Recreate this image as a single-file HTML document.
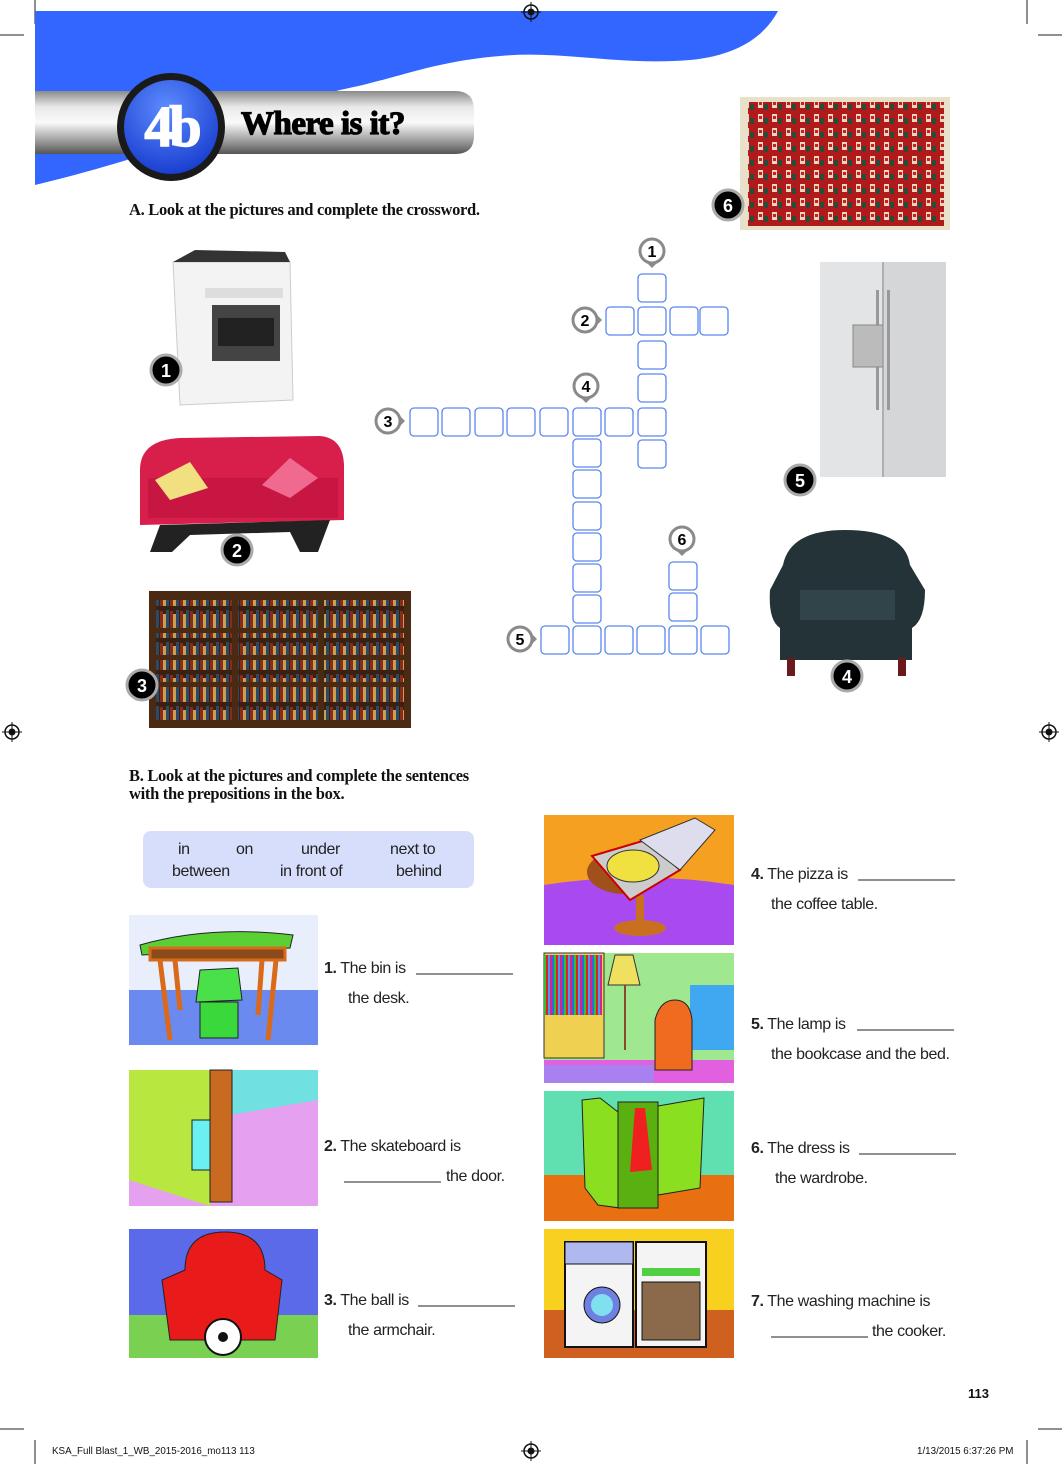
<!DOCTYPE html>
<html><head><meta charset="utf-8"><style>
html,body{margin:0;padding:0;background:#fff}
svg{display:block}
.s{font-family:"Liberation Sans",sans-serif;font-size:16px;fill:#222;letter-spacing:-0.4px}
.h{font-family:"Liberation Serif",serif;font-weight:bold;font-size:16.5px;fill:#111;letter-spacing:-0.3px}
.n{font-family:"Liberation Sans",sans-serif;font-weight:bold;font-size:16px;fill:#000;text-anchor:middle}
.w{font-family:"Liberation Sans",sans-serif;font-weight:bold;font-size:18px;fill:#fff;text-anchor:middle}
.f{font-family:"Liberation Sans",sans-serif;font-size:9.8px;fill:#111}
</style></head><body>
<svg width="1062" height="1464" viewBox="0 0 1062 1464" xmlns="http://www.w3.org/2000/svg">
<defs>
<linearGradient id="bar" x1="0" y1="0" x2="0" y2="1"><stop offset="0" stop-color="#8a8a8a"/><stop offset="0.25" stop-color="#e8e8e8"/><stop offset="0.5" stop-color="#fafafa"/><stop offset="0.8" stop-color="#9a9a9a"/><stop offset="1" stop-color="#555"/></linearGradient>
<radialGradient id="bl" cx="0.45" cy="0.3" r="0.7"><stop offset="0" stop-color="#5d8cff"/><stop offset="1" stop-color="#1a3fd0"/></radialGradient>
<pattern id="rug" width="14" height="14" patternUnits="userSpaceOnUse"><rect width="14" height="14" fill="#b01a1a"/><rect x="2" y="2" width="5" height="8" fill="#e8d8c0"/><rect x="8" y="6" width="4" height="6" fill="#2a4a3a"/><rect x="3" y="4" width="3" height="3" fill="#c82020"/></pattern>
<pattern id="books" width="10" height="32" patternUnits="userSpaceOnUse"><rect width="10" height="32" fill="#3a2010"/><rect x="0" y="3" width="3" height="27" fill="#8a2a1a"/><rect x="3" y="6" width="3" height="24" fill="#c8a050"/><rect x="6" y="2" width="3" height="28" fill="#2a4a6a"/></pattern>
<pattern id="cbooks" width="10" height="20" patternUnits="userSpaceOnUse"><rect width="10" height="20" fill="#555"/><rect x="0" y="0" width="2" height="20" fill="#e0208a"/><rect x="2" y="0" width="2" height="20" fill="#2a6ae0"/><rect x="4" y="0" width="2" height="20" fill="#30c030"/><rect x="6" y="0" width="2" height="20" fill="#e02020"/><rect x="8" y="0" width="2" height="20" fill="#40a0f0"/></pattern>
</defs>

<g stroke="#222" stroke-width="1">
<line x1="35" y1="0" x2="35" y2="24"/><line x1="0" y1="35" x2="24" y2="35"/>
<line x1="1027" y1="0" x2="1027" y2="24"/><line x1="1038" y1="35" x2="1062" y2="35"/>
<line x1="35" y1="1440" x2="35" y2="1464"/><line x1="0" y1="1429" x2="24" y2="1429"/>
<line x1="1027" y1="1440" x2="1027" y2="1464"/><line x1="1038" y1="1429" x2="1062" y2="1429"/>
</g>

<path d="M35,11 L778,11 C765,35 740,55 690,60 C620,66 560,50 500,56 C430,62 400,78 340,90 C260,110 180,150 35,185 Z" fill="#3366ff"/>

<g fill="none" stroke="#111" stroke-width="1.5">
<circle cx="531" cy="12" r="7"/><circle cx="12" cy="732" r="7"/><circle cx="1049" cy="732" r="7"/><circle cx="531" cy="1451" r="7"/>
</g>
<g fill="#111"><circle cx="531" cy="12" r="3.5"/><circle cx="12" cy="732" r="3.5"/><circle cx="1049" cy="732" r="3.5"/><circle cx="531" cy="1451" r="3.5"/></g>
<g stroke="#111" stroke-width="1"><line x1="521" y1="12" x2="541" y2="12"/><line x1="531" y1="2" x2="531" y2="22"/><line x1="2" y1="732" x2="22" y2="732"/><line x1="12" y1="722" x2="12" y2="742"/><line x1="1039" y1="732" x2="1059" y2="732"/><line x1="1049" y1="722" x2="1049" y2="742"/><line x1="521" y1="1451" x2="541" y2="1451"/><line x1="531" y1="1441" x2="531" y2="1461"/></g>

<path d="M35,91 L455,91 Q474,91 474,110 L474,136 Q474,154 455,154 L35,154 Z" fill="url(#bar)"/>
<circle cx="171" cy="127" r="54" fill="#1a1a1a"/>
<circle cx="171" cy="127" r="47" fill="url(#bl)"/>
<text x="171" y="146" font-family="Liberation Serif,serif" font-weight="bold" font-size="58" fill="#fff" stroke="#fff" stroke-width="1.5" text-anchor="middle" letter-spacing="-4">4b</text>
<text x="241" y="134" font-family="Liberation Serif,serif" font-weight="bold" font-size="33" fill="#000" stroke="#000" stroke-width="1.2" letter-spacing="-0.5">Where is it?</text>

<text x="129" y="215" class="h">A. Look at the pictures and complete the crossword.</text>

<rect x="740" y="97" width="210" height="133" fill="#e8e0c8"/>
<rect x="748" y="102" width="196" height="124" fill="url(#rug)"/>
<circle cx="728" cy="205" r="15" fill="#000" stroke="#aaa" stroke-width="3"/><text x="728" y="212" class="w">6</text>

<path d="M173,262 L290,262 L293,400 L180,405 Z" fill="#f3f3f3" stroke="#ccc"/>
<path d="M173,262 L195,250 L285,252 L290,262 Z" fill="#333"/>
<rect x="205" y="288" width="78" height="10" fill="#ddd"/>
<rect x="212" y="305" width="68" height="56" fill="#444"/><rect x="218" y="318" width="56" height="28" fill="#222"/>
<circle cx="166" cy="370" r="15" fill="#000" stroke="#aaa" stroke-width="3"/><text x="166" y="377" class="w">1</text>

<path d="M140,470 Q140,440 180,438 L320,436 Q345,438 344,470 L344,520 L140,525 Z" fill="#d81e4a"/>
<rect x="148" y="478" width="190" height="40" fill="#c81642"/>
<polygon points="160,525 330,520 318,552 300,552 290,532 190,535 172,552 150,552" fill="#222"/>
<polygon points="155,480 190,462 208,488 170,500" fill="#f0e080"/>
<polygon points="262,485 290,458 318,478 290,498" fill="#f06a90"/>
<circle cx="237" cy="550" r="15" fill="#000" stroke="#aaa" stroke-width="3"/><text x="237" y="557" class="w">2</text>

<rect x="149" y="591" width="262" height="137" fill="#4a2a12"/>
<rect x="156" y="600" width="248" height="120" fill="url(#books)"/>
<g fill="#4a2a12"><rect x="156" y="628" width="248" height="5"/><rect x="156" y="655" width="248" height="5"/><rect x="156" y="682" width="248" height="5"/><rect x="232" y="595" width="6" height="128"/><rect x="318" y="595" width="6" height="128"/></g>
<circle cx="142" cy="685" r="15" fill="#000" stroke="#aaa" stroke-width="3"/><text x="142" y="692" class="w">3</text>

<rect x="820" y="262" width="126" height="215" fill="#d4d6d8"/>
<rect x="820" y="262" width="62" height="215" fill="#e2e4e6"/>
<line x1="883" y1="262" x2="883" y2="477" stroke="#888"/>
<rect x="876" y="290" width="3" height="120" fill="#999"/><rect x="887" y="290" width="3" height="120" fill="#999"/>
<rect x="853" y="325" width="30" height="42" fill="#bbb" stroke="#888"/>
<circle cx="800" cy="480" r="15" fill="#000" stroke="#aaa" stroke-width="3"/><text x="800" y="487" class="w">5</text>

<path d="M783,565 Q790,530 845,530 Q905,530 910,565 L925,590 Q925,620 912,628 L912,660 L780,660 L780,628 Q768,620 770,590 Z" fill="#233338"/>
<rect x="800" y="590" width="95" height="30" fill="#30444a"/>
<rect x="787" y="658" width="8" height="18" fill="#6a1a1a"/><rect x="898" y="658" width="8" height="18" fill="#6a1a1a"/>
<circle cx="847" cy="676" r="15" fill="#000" stroke="#aaa" stroke-width="3"/><text x="847" y="683" class="w">4</text>

<g fill="#fff" stroke="#5b86f0" stroke-width="1.3">
<rect x="638" y="274" width="28" height="28" rx="4"/>
<rect x="606" y="307" width="28" height="28" rx="4"/><rect x="638" y="307" width="28" height="28" rx="4"/><rect x="670" y="307" width="28" height="28" rx="4"/><rect x="700" y="307" width="28" height="28" rx="4"/>
<rect x="638" y="341" width="28" height="28" rx="4"/><rect x="638" y="374" width="28" height="28" rx="4"/>
<rect x="410" y="408" width="28" height="28" rx="4"/><rect x="442" y="408" width="28" height="28" rx="4"/><rect x="475" y="408" width="28" height="28" rx="4"/><rect x="507" y="408" width="28" height="28" rx="4"/><rect x="540" y="408" width="28" height="28" rx="4"/><rect x="573" y="408" width="28" height="28" rx="4"/><rect x="605" y="408" width="28" height="28" rx="4"/><rect x="638" y="408" width="28" height="28" rx="4"/>
<rect x="638" y="440" width="28" height="28" rx="4"/>
<rect x="573" y="439" width="28" height="28" rx="4"/><rect x="573" y="470" width="28" height="28" rx="4"/><rect x="573" y="502" width="28" height="28" rx="4"/><rect x="573" y="533" width="28" height="28" rx="4"/><rect x="573" y="564" width="28" height="28" rx="4"/><rect x="573" y="595" width="28" height="28" rx="4"/>
<rect x="669" y="562" width="28" height="28" rx="4"/><rect x="669" y="593" width="28" height="28" rx="4"/>
<rect x="541" y="626" width="28" height="28" rx="4"/><rect x="573" y="626" width="28" height="28" rx="4"/><rect x="605" y="626" width="28" height="28" rx="4"/><rect x="637" y="626" width="28" height="28" rx="4"/><rect x="669" y="626" width="28" height="28" rx="4"/><rect x="701" y="626" width="28" height="28" rx="4"/>
</g>
<g fill="#fff" stroke="#8a8a8a" stroke-width="3">
<circle cx="652" cy="251" r="12"/><circle cx="585" cy="320" r="12"/><circle cx="388" cy="421" r="12"/><circle cx="586" cy="386" r="12"/><circle cx="520" cy="639" r="12"/><circle cx="682" cy="539" r="12"/>
</g>
<g fill="#8a8a8a">
<polygon points="647,263 657,263 652,268"/><polygon points="677,551 687,551 682,556"/><polygon points="581,398 591,398 586,403"/>
<polygon points="597,315 597,325 602,320"/><polygon points="400,416 400,426 405,421"/><polygon points="532,634 532,644 537,639"/>
</g>
<text x="652" y="257" class="n">1</text><text x="585" y="326" class="n">2</text><text x="388" y="427" class="n">3</text><text x="586" y="392" class="n">4</text><text x="520" y="645" class="n">5</text><text x="682" y="545" class="n">6</text>

<text x="129" y="781" class="h">B.  Look at the pictures and complete the sentences</text>
<text x="129" y="799" class="h">with the prepositions in the box.</text>
<rect x="143" y="831" width="331" height="57" rx="8" fill="#d6defb"/>
<g class="s"><text x="178" y="854">in</text><text x="236" y="854">on</text><text x="301" y="854">under</text><text x="390" y="854">next to</text>
<text x="172" y="876">between</text><text x="280" y="876">in front of</text><text x="396" y="876">behind</text></g>

<rect x="129" y="915" width="189" height="130" fill="#e8eefc"/>
<rect x="129" y="990" width="189" height="55" fill="#6a8af0"/>
<path d="M140,945 Q210,925 293,935 L290,948 L142,955 Z" fill="#5ad035" stroke="#222"/>
<rect x="150" y="948" width="135" height="12" fill="#8a4a1a" stroke="#d86a1a" stroke-width="3"/>
<g stroke="#d86a1a" stroke-width="5"><line x1="160" y1="960" x2="170" y2="1040"/><line x1="175" y1="960" x2="180" y2="1010"/><line x1="276" y1="960" x2="268" y2="1040"/><line x1="262" y1="960" x2="258" y2="1015"/></g>
<polygon points="200,970 238,968 242,1000 196,1002" fill="#4ae04a" stroke="#222"/>
<rect x="200" y="1002" width="38" height="36" fill="#3ad83a" stroke="#222"/>

<rect x="129" y="1070" width="189" height="136" fill="#e6a0f0"/>
<polygon points="129,1070 210,1070 210,1206 129,1180" fill="#b8e840"/>
<polygon points="230,1070 318,1070 318,1100 230,1115" fill="#70e0e0"/>
<rect x="210" y="1070" width="22" height="132" fill="#c86a20" stroke="#222"/>
<rect x="192" y="1120" width="18" height="50" fill="#6af0f0" stroke="#222"/>

<rect x="129" y="1229" width="189" height="129" fill="#5a6ae8"/>
<rect x="129" y="1315" width="189" height="43" fill="#7ad050"/>
<path d="M185,1270 Q185,1232 225,1232 Q265,1232 265,1270 L282,1280 L275,1340 L170,1340 L162,1280 Z" fill="#e81a1a" stroke="#222"/>
<circle cx="223" cy="1337" r="18" fill="#fff" stroke="#111" stroke-width="2"/>
<circle cx="223" cy="1337" r="5" fill="#111"/>

<rect x="544" y="815" width="190" height="130" fill="#f5a020"/>
<path d="M544,885 Q640,870 734,885 L734,945 L544,945 Z" fill="#a84af0"/>
<ellipse cx="640" cy="928" rx="26" ry="8" fill="#c87020"/>
<rect x="636" y="895" width="8" height="30" fill="#c87020"/>
<ellipse cx="625" cy="872" rx="38" ry="22" fill="#a0501a"/>
<polygon points="592,856 646,840 680,870 630,900" fill="#ccc" stroke="#c00" stroke-width="2"/>
<polygon points="640,840 695,818 715,830 680,870" fill="#dde" stroke="#333"/>
<ellipse cx="633" cy="866" rx="26" ry="16" fill="#f0e040" stroke="#333"/>

<rect x="544" y="953" width="190" height="130" fill="#a0e890"/>
<rect x="544" y="1060" width="190" height="23" fill="#e060e0"/>
<rect x="544" y="953" width="60" height="105" fill="#f0d050" stroke="#333"/>
<rect x="544" y="955" width="58" height="60" fill="url(#cbooks)"/>
<polygon points="615,955 633,955 640,985 608,985" fill="#f0e060" stroke="#333"/>
<line x1="625" y1="985" x2="625" y2="1050" stroke="#8a4a2a" stroke-width="2"/>
<rect x="690" y="985" width="44" height="65" fill="#40a8f0"/>
<path d="M655,1070 L655,1020 Q660,1000 675,1000 Q690,1000 692,1020 L692,1070 Z" fill="#f06a20" stroke="#222"/>
<rect x="544" y="1065" width="110" height="18" fill="#a880f0"/>

<rect x="544" y="1091" width="190" height="130" fill="#60e0b0"/>
<rect x="544" y="1175" width="190" height="46" fill="#e87010"/>
<polygon points="582,1100 600,1098 618,1112 620,1208 598,1205 585,1188" fill="#8ae020" stroke="#222"/>
<rect x="618" y="1102" width="40" height="106" fill="#5ab010" stroke="#222"/>
<polygon points="658,1106 704,1098 700,1188 658,1195" fill="#8ae020" stroke="#222"/>
<polygon points="635,1108 645,1108 652,1170 630,1172" fill="#f02020"/>

<rect x="544" y="1229" width="190" height="129" fill="#f8d020"/>
<rect x="544" y="1310" width="190" height="48" fill="#d06020"/>
<rect x="565" y="1242" width="68" height="105" fill="#f4f4f4" stroke="#111" stroke-width="2"/>
<rect x="565" y="1242" width="68" height="22" fill="#b0b8f0" stroke="#111"/>
<circle cx="602" cy="1305" r="18" fill="#7080e0" stroke="#111"/><circle cx="602" cy="1305" r="11" fill="#80e0f0"/>
<rect x="636" y="1242" width="70" height="105" fill="#f4f4f4" stroke="#111" stroke-width="2"/>
<rect x="642" y="1268" width="58" height="8" fill="#50d040"/>
<rect x="642" y="1282" width="58" height="58" fill="#8a6a4a" stroke="#111"/>

<g class="s">
<text x="324" y="973"><tspan font-weight="bold">1.</tspan>  The bin is</text>
<text x="348" y="1003">the desk.</text>
<text x="324" y="1151"><tspan font-weight="bold">2.</tspan> The skateboard is</text>
<text x="446" y="1181">the door.</text>
<text x="324" y="1305"><tspan font-weight="bold">3.</tspan>  The ball is</text>
<text x="348" y="1335">the armchair.</text>
<text x="751" y="879"><tspan font-weight="bold">4.</tspan>  The pizza is</text>
<text x="771" y="909">the coffee table.</text>
<text x="751" y="1029"><tspan font-weight="bold">5.</tspan>  The lamp is</text>
<text x="771" y="1059">the bookcase and the bed.</text>
<text x="751" y="1153"><tspan font-weight="bold">6.</tspan>  The dress is</text>
<text x="775" y="1183">the wardrobe.</text>
<text x="751" y="1306"><tspan font-weight="bold">7.</tspan>  The washing machine is</text>
<text x="872" y="1336">the cooker.</text>
</g>
<g stroke="#222" stroke-width="1">
<line x1="416" y1="974" x2="513" y2="974"/>
<line x1="344" y1="1182" x2="441" y2="1182"/>
<line x1="418" y1="1306" x2="515" y2="1306"/>
<line x1="858" y1="880" x2="955" y2="880"/>
<line x1="857" y1="1030" x2="954" y2="1030"/>
<line x1="859" y1="1154" x2="956" y2="1154"/>
<line x1="771" y1="1337" x2="868" y2="1337"/>
</g>

<text x="968" y="1398" font-family="Liberation Sans,sans-serif" font-weight="bold" font-size="13" fill="#111">113</text>
<text x="52" y="1454" class="f">KSA_Full Blast_1_WB_2015-2016_mo113   113</text>
<text x="917" y="1454" class="f">1/13/2015   6:37:26 PM</text>
</svg>
</body></html>
